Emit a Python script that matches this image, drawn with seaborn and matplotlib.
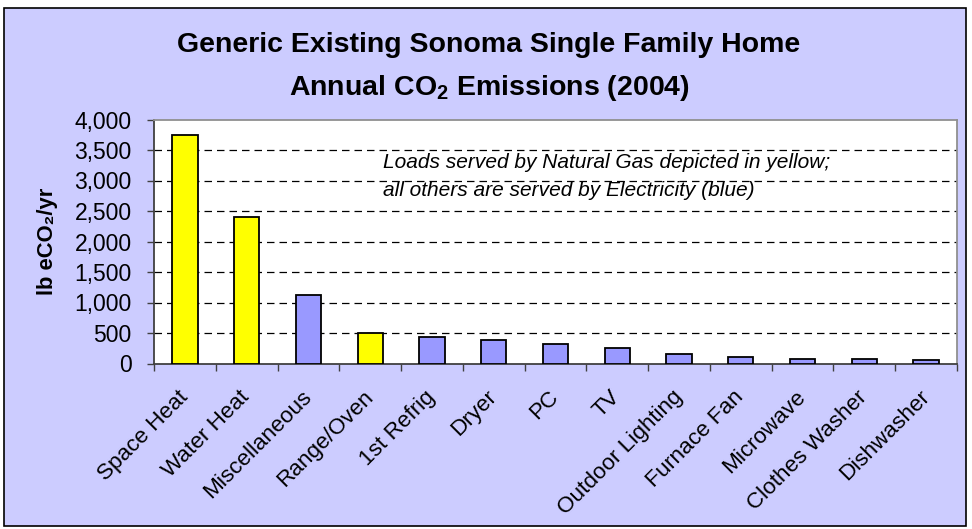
import numpy as np
import pandas as pd
import matplotlib
matplotlib.use("Agg")
import matplotlib.pyplot as plt
from matplotlib.patches import Rectangle
from matplotlib.ticker import FuncFormatter, FixedLocator
from matplotlib.transforms import ScaledTranslation
import seaborn as sns

# data
loads = ["Space Heat", "Water Heat", "Miscellaneous", "Range/Oven", "1st Refrig",
         "Dryer", "PC", "TV", "Outdoor Lighting", "Furnace Fan", "Microwave",
         "Clothes Washer", "Dishwasher"]
emissions = [3750, 2400, 1125, 500, 430, 385, 315, 260, 150, 100, 75, 75, 55]
fuel = ["Gas", "Gas", "Electric", "Gas", "Electric", "Electric", "Electric",
        "Electric", "Electric", "Electric", "Electric", "Electric", "Electric"]
y_ticks = [0, 500, 1000, 1500, 2000, 2500, 3000, 3500, 4000]

df = pd.DataFrame({"load": loads, "emissions": emissions, "fuel": fuel})

sns.set_style("white")
plt.rcParams["font.family"] = ["Liberation Sans", "DejaVu Sans"]
plt.rcParams.update({"text.color": "black", "axes.labelcolor": "black",
                     "xtick.color": "black", "ytick.color": "black",
                     "mathtext.fontset": "custom",
                     "mathtext.rm": "Liberation Sans",
                     "mathtext.bf": "Liberation Sans:bold"})

W, H = 972, 529
fig = plt.figure(figsize=(W / 100, H / 100), dpi=100, facecolor="white")

# lavender chart area with thin black border (behind the axes)
bg = Rectangle((4 / W, 1 - 526 / H), (966 - 4) / W, (526 - 8) / H,
               transform=fig.transFigure, facecolor="#CCCCFF",
               edgecolor="black", linewidth=1.2, zorder=-10)
fig.add_artist(bg)

ax = fig.add_axes([154 / W, 1 - 363.5 / H, (957 - 154) / W, (363.5 - 119.5) / H])
ax.set_zorder(1)
ax.set_facecolor("white")

sns.barplot(data=df, x="load", y="emissions", hue="fuel",
            palette={"Gas": "#FFFF00", "Electric": "#9999FF"},
            saturation=1, dodge=False, width=0.41, edgecolor="black",
            linewidth=1.3, legend=False, ax=ax, zorder=3)

ax.set_xlim(-0.5, len(loads) - 0.5)
ax.set_ylim(0, 4000)
ax.set_yticks(y_ticks)
ax.yaxis.set_major_formatter(FuncFormatter(lambda v, p: f"{int(v):,}"))
for v in y_ticks[1:-1]:
    ax.axhline(v, color="black", linestyle=(0, (6, 4)), linewidth=0.9, zorder=1)

# category labels at centres, tick marks at category boundaries
ax.set_xticks(np.arange(len(loads)))
ax.set_xticklabels(loads, rotation=45, ha="right", va="center",
                   rotation_mode="anchor", fontsize=16.2)
shift = ScaledTranslation(-7 / 100, 4 / 100, fig.dpi_scale_trans)
for lab in ax.get_xticklabels():
    lab.set_transform(lab.get_transform() + shift)
ax.xaxis.set_minor_locator(FixedLocator(np.arange(-0.5, len(loads), 1.0)))
ax.tick_params(axis="x", which="major", length=0, pad=22)
ax.tick_params(axis="x", which="minor", length=5, width=1, color="#404040",
               direction="out", bottom=True)
ax.tick_params(axis="y", length=5, width=1, color="#404040", direction="out",
               left=True, labelsize=16.5, pad=11)
ax.set_xlabel("")
ax.set_ylabel("lb eCO₂/yr", fontsize=15.8, fontweight="bold", labelpad=12)

for side in ["left", "bottom"]:
    ax.spines[side].set_color("#404040")
    ax.spines[side].set_linewidth(1.3)
for side in ["top", "right"]:
    ax.spines[side].set_visible(True)
    ax.spines[side].set_color("#909090")
    ax.spines[side].set_linewidth(1.3)

note_x = (383 - 154) / (957 - 154)
ax.text(note_x, (363.5 - 162) / 244, "Loads served by Natural Gas depicted in yellow;",
        transform=ax.transAxes, ha="left", va="center", fontsize=15, style="italic")
ax.text(note_x, (363.5 - 191) / 244, "all others are served by Electricity (blue)",
        transform=ax.transAxes, ha="left", va="center", fontsize=15, style="italic")

fig.text(489 / W, 1 - 45 / H, "Generic Existing Sonoma Single Family Home",
         ha="center", va="center", fontsize=20.5, fontweight="bold")
fig.text(489 / W, 1 - 88 / H, r"Annual CO$_{\mathbf{2}}$ Emissions (2004)",
         ha="center", va="center", fontsize=20.5, fontweight="bold")

fig.savefig("out.png", dpi=100, facecolor=fig.get_facecolor())
